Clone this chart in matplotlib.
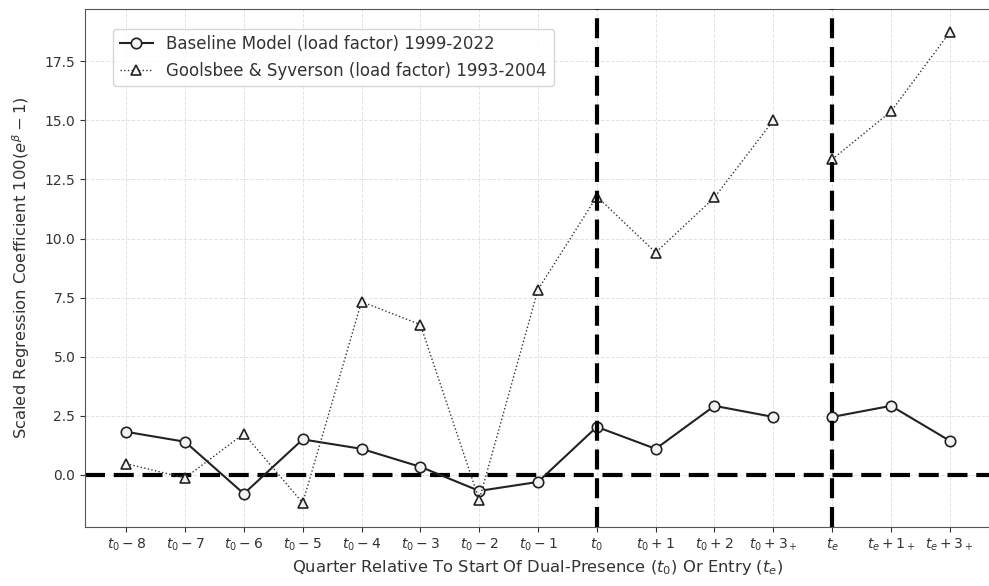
import numpy as np
import matplotlib
matplotlib.use("Agg")
import matplotlib.pyplot as plt

# quarters relative to t0 / te
tick_labels = [
    r"$t_0-8$", r"$t_0-7$", r"$t_0-6$", r"$t_0-5$", r"$t_0-4$",
    r"$t_0-3$", r"$t_0-2$", r"$t_0-1$", r"$t_0$", r"$t_0+1$",
    r"$t_0+2$", r"$t_0+3_+$", r"$t_e$", r"$t_e+1_+$", r"$t_e+3_+$",
]
baseline = [1.82, 1.40, -0.80, 1.50, 1.10, 0.34, -0.68, -0.30,
            2.03, 1.10, 2.92, 2.45, 2.45, 2.92, 1.44]
goolsbee = [0.47, -0.13, 1.74, -1.19, 7.33, 6.36, -1.06, 7.84,
            11.78, 9.41, 11.74, 15.00, 13.35, 15.38, 18.73]
t0_idx = 8
te_idx = 12

text_col = "#333333"
plt.rcParams["text.color"] = text_col
plt.rcParams["axes.labelcolor"] = text_col
plt.rcParams["xtick.color"] = text_col
plt.rcParams["ytick.color"] = text_col
plt.rcParams["axes.edgecolor"] = "#555555"

x = np.arange(len(tick_labels))
base = np.array(baseline)
gs = np.array(goolsbee)

fig = plt.figure(figsize=(9.89, 5.86), dpi=100)
ax = fig.add_axes([0.086, 0.101, 0.916, 0.883])

ax.axhline(0, color="black", lw=3, ls=(0, (4.8, 2.1)), zorder=2)

# line breaks between t0+3+ and te
seg1 = slice(0, te_idx)
seg2 = slice(te_idx, None)
for i, seg in enumerate([seg1, seg2]):
    ax.plot(x[seg], base[seg], "-o", color="#222222", lw=1.5, ms=7.5,
            mfc="#f2f2f2", mec="#222222", mew=1.2, zorder=3,
            label="Baseline Model (load factor) 1999-2022" if i == 0 else None)
    ax.plot(x[seg], gs[seg], ":^", color="#333333", lw=1, ms=7.5,
            mfc="#f2f2f2", mec="#222222", mew=1.2, zorder=3,
            label="Goolsbee & Syverson (load factor) 1993-2004" if i == 0 else None)

ax.axvline(t0_idx, color="black", lw=3, ls=(0, (4.8, 2.1)), zorder=4)
ax.axvline(te_idx, color="black", lw=3, ls=(0, (4.8, 2.1)), zorder=4)

ax.set_xticks(x)
ax.set_xticklabels(tick_labels)
ax.set_xlim(-0.7, 14.7)
ax.set_ylim(-2.2, 19.7)
ax.grid(True, ls="--", color="#e3e3e3", lw=0.7, zorder=0)
ax.set_axisbelow(True)

ax.set_xlabel(r"Quarter Relative To Start Of Dual-Presence ($t_0$) Or Entry ($t_e$)",
              fontsize=11.75, labelpad=4)
ax.set_ylabel(r"Scaled Regression Coefficient $100(e^{\beta}-1)$", fontsize=11.75,
              labelpad=9)
ax.legend(loc="upper left", bbox_to_anchor=(0.031, 0.963), borderaxespad=0,
          fontsize=12)

fig.savefig("out.png", dpi=100)
